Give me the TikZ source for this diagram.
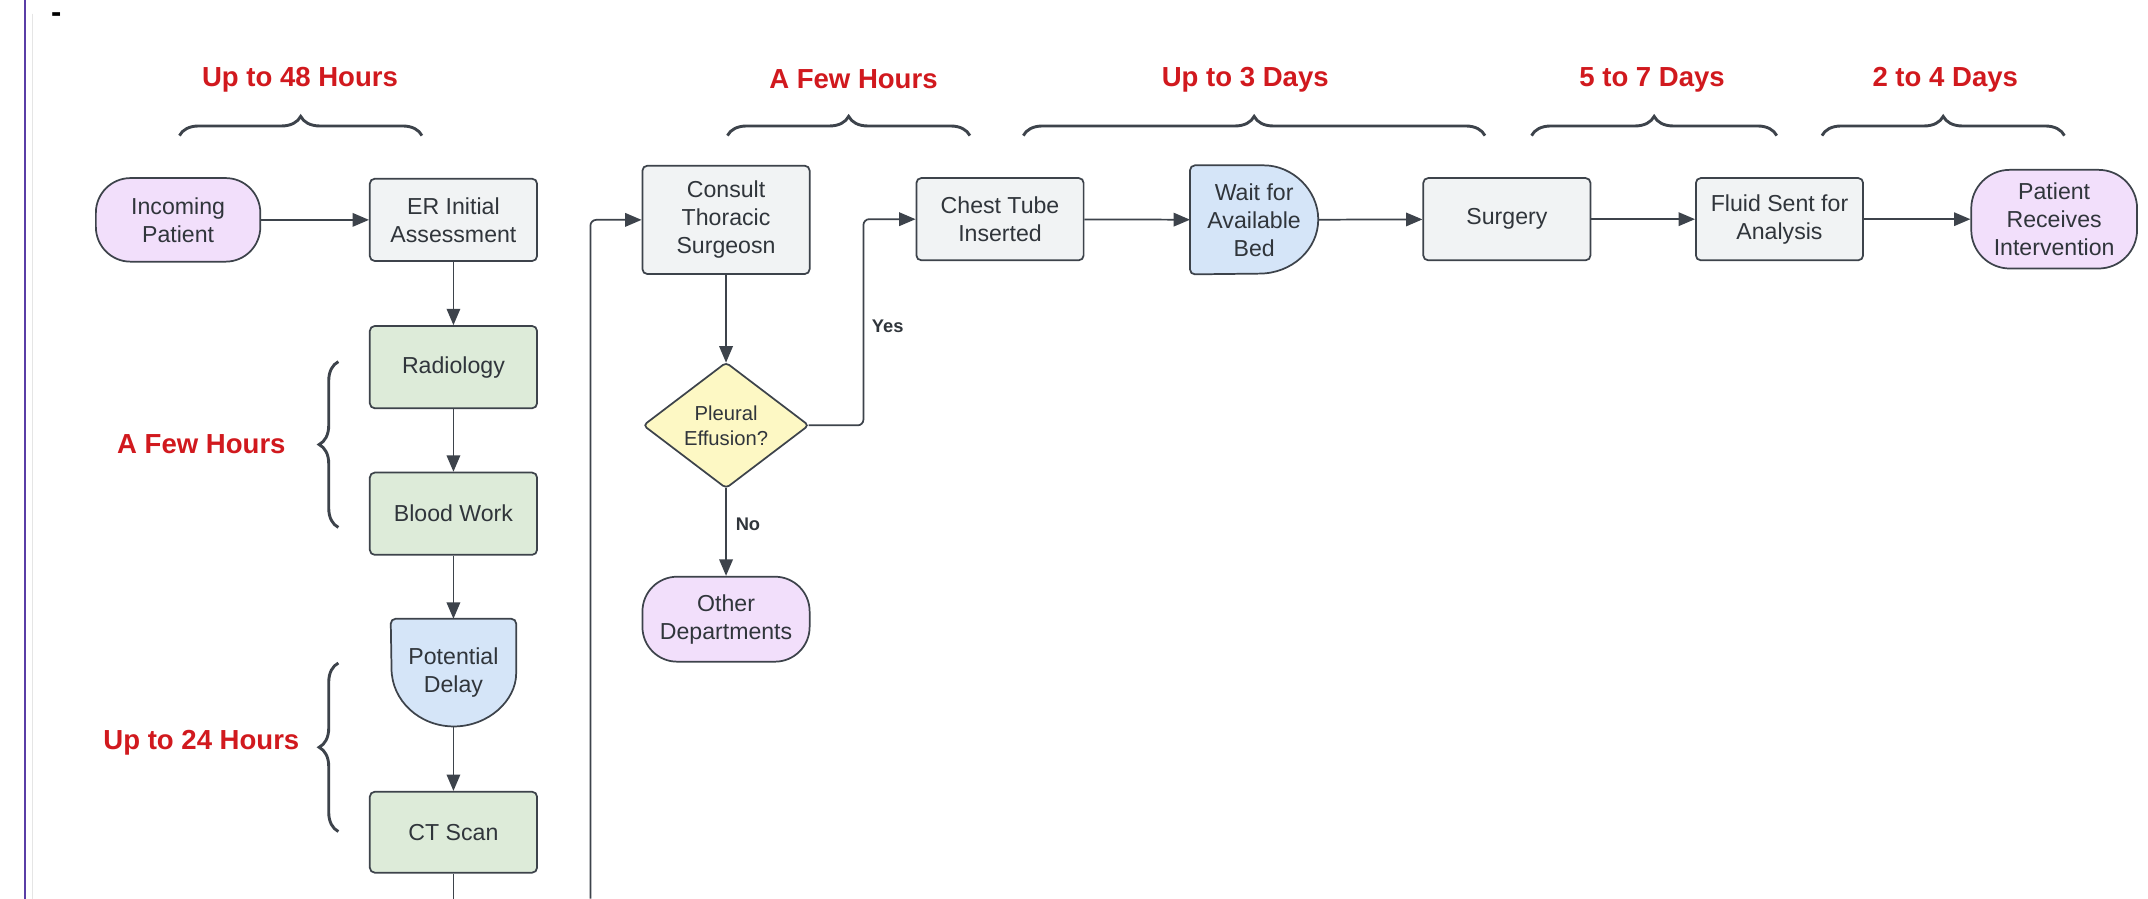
\documentclass[tikz,border=0pt]{standalone}
\usepackage{fontspec}
\setmainfont{Liberation Sans}
\usetikzlibrary{arrows.meta,decorations.pathreplacing,calc}
\pgfdeclarelayer{bg}
\pgfsetlayers{bg,main}

\definecolor{strokec}{HTML}{3D434B}
\definecolor{grayf}{HTML}{F1F3F4}
\definecolor{greenf}{HTML}{DDEBD9}
\definecolor{bluef}{HTML}{D5E5F8}
\definecolor{purplef}{HTML}{F2DFFB}
\definecolor{yellowf}{HTML}{FDF8C4}
\definecolor{redt}{HTML}{D1191E}
\definecolor{textc}{HTML}{30353B}
\definecolor{borderp}{HTML}{5A3EA6}

\begin{document}
\begin{tikzpicture}[x=0.025cm,y=-0.025cm,
  every node/.style={font=\fontsize{12}{14.5}\selectfont, text=textc, align=center, inner sep=0pt},
  proc/.style={draw=strokec, line width=0.9pt, rounded corners=2.5pt, minimum width=3.05cm, minimum height=1.5cm},
  grayproc/.style={proc, fill=grayf},
  greenproc/.style={proc, fill=greenf},
  term/.style={draw=strokec, line width=0.9pt, fill=purplef, rounded corners=18pt, minimum width=3.05cm, minimum height=1.55cm},
  ghost/.style={draw=none},
  shapeline/.style={draw=strokec, line width=0.9pt},
  conn/.style={draw=strokec, line width=0.9pt, -{Triangle[length=8.5pt,width=7pt]}},
  plainline/.style={draw=strokec, line width=0.9pt},
  redlabel/.style={font=\fontsize{14.3}{16}\selectfont\bfseries, text=redt},
  bracestyle/.style={draw=strokec, line width=1.5pt, decorate, decoration={brace, amplitude=10pt}},
  yn/.style={font=\fontsize{9.5}{11}\selectfont\bfseries, text=textc}
]
\useasboundingbox (0,0) rectangle (1568,656);

% page border lines
\draw[borderp, line width=1pt] (18,0) -- (18,656);
\draw[black!10, line width=0.6pt] (24,10) -- (24,656);
\node[font=\fontsize{16}{16}\selectfont\bfseries, text=black] (dash) at (41,13) {-};

% top row
\node[term, minimum width=3.0cm, minimum height=1.525cm] (inc) at (130,160.5) {Incoming\\Patient};
\node[grayproc] (er) at (331,160.5) {ER Initial\\Assessment};
\node[grayproc, minimum height=1.975cm] (cons) at (530,160.5) {Consult\\Thoracic\\Surgeosn};
\node[grayproc] (chest) at (730,160) {Chest Tube\\Inserted};
\node[ghost, minimum width=2.325cm, minimum height=1.975cm] (bed) at (915.5,160.5) {Wait for\\Available\\Bed};
\node[grayproc] (surg) at (1100,160) {Surgery};
\node[grayproc] (fluid) at (1299,160) {Fluid Sent for\\Analysis};
\node[term, minimum width=3.025cm, minimum height=1.8cm, rounded corners=20pt] (pat) at (1499.5,160) {Patient\\Receives\\Intervention};

% left column
\node[greenproc] (rad) at (331,268) {Radiology};
\node[greenproc] (blood) at (331,375) {Blood Work};
\node[ghost, minimum width=2.275cm, minimum height=1.95cm] (delay) at (331,491) {Potential\\Delay};
\node[greenproc, minimum height=1.475cm] (ct) at (331,607.5) {CT Scan};

% decision branch
\node[ghost, minimum width=3.0cm, minimum height=2.275cm, font=\fontsize{10.5}{13}\selectfont] (dia) at (530,310.5) {Pleural\\Effusion?};
\node[term] (other) at (530,452) {Other\\Departments};

\begin{pgfonlayer}{bg}
  \fill[white] (0,0) rectangle (1568,656);
  \draw[shapeline, fill=bluef] ([xshift=-30.6pt]bed.north east)
    arc[start angle=90, end angle=-90, x radius=30.6pt, y radius=28.1pt]
    [rounded corners=2.5pt] -- (bed.south west) -- (bed.north west) -- cycle;
  \draw[shapeline, fill=bluef] ([yshift=30pt]delay.south east)
    arc[start angle=0, end angle=-180, x radius=32.35pt, y radius=30pt]
    [rounded corners=2.5pt] -- (delay.north west) -- (delay.north east) -- cycle;
  \draw[shapeline, fill=yellowf, rounded corners=2pt]
    (dia.north) -- (dia.east) -- (dia.south) -- (dia.west) -- cycle;
\end{pgfonlayer}

% connectors
\draw[conn] (inc) -- (er);
\draw[conn] (er) -- (rad);
\draw[conn] (rad) -- (blood);
\draw[conn] (blood) -- (delay);
\draw[conn] (delay) -- (ct);
\coordinate (ctend) at (331,656);
\draw[plainline] (ct.south) -- (ctend);
\coordinate (fbstart) at (431,656);
\draw[conn, rounded corners=3pt] (fbstart) |- (cons.west);
\draw[conn] (cons) -- (dia);
\draw[conn, rounded corners=3pt] (dia.east) -- ++(40,0) |- (chest.west);
\draw[conn] (dia.south) -- (other.north);
\draw[conn] (chest) -- (bed);
\draw[conn] (bed) -- (surg);
\draw[conn] (surg) -- (fluid);
\draw[conn] (fluid) -- (pat);
\node[yn] (yes) at (648,238) {Yes};
\node[yn] (no) at (546,383) {No};

% top labels and braces
\node[redlabel] (l1) at (219,58) {Up to 48 Hours};
\node[redlabel] (l2) at (623,58) {A Few Hours};
\node[redlabel] (l3) at (909,58) {Up to 3 Days};
\node[redlabel] (l4) at (1206,58) {5 to 7 Days};
\node[redlabel] (l5) at (1420,58) {2 to 4 Days};
\coordinate (b1a) at (131,99); \coordinate (b1b) at (308,99);
\coordinate (b2a) at (531,99); \coordinate (b2b) at (708,99);
\coordinate (b3a) at (747,99); \coordinate (b3b) at (1084,99);
\coordinate (b4a) at (1118,99); \coordinate (b4b) at (1297,99);
\coordinate (b5a) at (1330,99); \coordinate (b5b) at (1507,99);
\draw[bracestyle] (b1a) -- (b1b);
\draw[bracestyle] (b2a) -- (b2b);
\draw[bracestyle] (b3a) -- (b3b);
\draw[bracestyle] (b4a) -- (b4b);
\draw[bracestyle] (b5a) -- (b5b);

% left labels and braces
\node[redlabel] (l6) at (147,324) {A Few Hours};
\node[redlabel] (l7) at (147,542) {Up to 24 Hours};
\coordinate (b6a) at (247,385); \coordinate (b6b) at (247,264);
\coordinate (b7a) at (247,607); \coordinate (b7b) at (247,484);
\draw[bracestyle] (b6a) -- (b6b);
\draw[bracestyle] (b7a) -- (b7b);
\end{tikzpicture}
\end{document}
